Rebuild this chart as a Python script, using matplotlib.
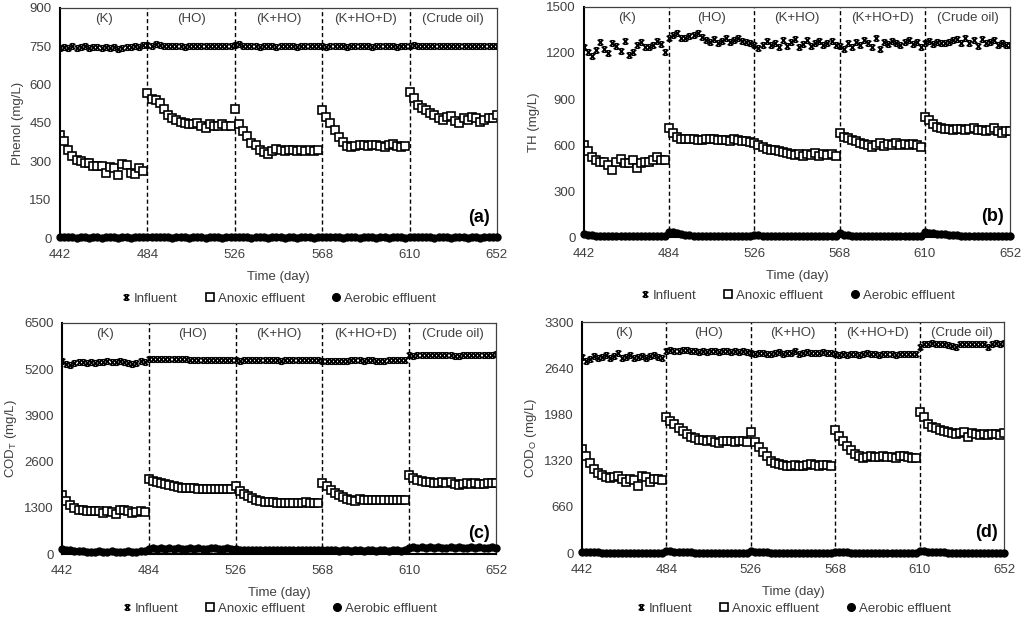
import numpy as np
import matplotlib
matplotlib.use('Agg')
import matplotlib.pyplot as plt
from matplotlib.path import Path
from matplotlib.lines import Line2D
import matplotlib.transforms as mtransforms

plt.rcParams['font.family'] = ['Liberation Sans', 'DejaVu Sans']
plt.rcParams['mathtext.fontset'] = 'custom'
plt.rcParams['mathtext.rm'] = 'Liberation Sans'
plt.rcParams['mathtext.it'] = 'Liberation Sans'

days = np.arange(442, 653, 2)  # sampling every 2 days
phase_bounds = [484, 526, 568, 610]
phase_names = ['(K)', '(HO)', '(K+HO)', '(K+HO+D)', '(Crude oil)']
phase_centers = [463, 505, 547, 589, 631]
xticks = [442, 484, 526, 568, 610, 652]

# ---- (a) Phenol ----
phenol_inf = [745, 748, 742, 750, 744, 747, 752, 745, 748, 746, 744, 747, 745, 748, 738, 742, 746, 749, 752, 748, 754,
              756, 752, 760, 755, 750, 752, 751, 750, 752, 749, 751, 753, 752, 750, 751, 752, 750, 752, 753, 751, 752,
              754, 758, 752, 751, 750, 752, 749, 751, 752, 750, 749, 751, 752, 750, 751, 749, 750, 752, 751, 750, 752,
              751, 749, 750, 752, 750, 751, 749, 752, 750, 751, 750, 752, 749, 751, 750, 752, 751, 750, 749, 751, 750,
              752, 754, 751, 752, 750, 753, 751, 752, 750, 751, 753, 752, 750, 751, 752, 750, 751, 752, 750, 751, 752, 751]
phenol_anox = [402, 378, 345, 320, 305, 300, 295, 295, 280, 282, 280, 255, 278, 272, 248, 290, 285, 255, 252, 272, 262,
               568, 545, 540, 530, 505, 480, 470, 460, 455, 450, 445, 445, 450, 440, 432, 448, 440, 440, 445, 440, 440,
               505, 445, 420, 400, 372, 362, 345, 335, 330, 340, 350, 345, 340, 345, 345, 340, 345, 342, 345, 340, 345,
               500, 475, 450, 423, 396, 377, 360, 355, 360, 365, 362, 360, 365, 362, 360, 358, 362, 368, 360, 358, 360,
               570, 548, 520, 510, 500, 490, 481, 468, 462, 473, 478, 458, 451, 468, 462, 475, 468, 455, 462, 470, 468, 480]
phenol_aer = [3, 2, 2, 2, 1, 2, 2, 1, 2, 2, 1, 2, 2, 2, 1, 2, 2, 1, 2, 2, 2,
              3, 3, 2, 2, 2, 2, 1, 2, 2, 2, 1, 2, 2, 2, 1, 2, 2, 2, 1, 2, 2,
              3, 2, 2, 2, 1, 2, 2, 2, 1, 2, 2, 2, 1, 2, 2, 1, 2, 2, 2, 1, 2,
              3, 2, 2, 2, 2, 1, 2, 2, 2, 1, 2, 2, 2, 1, 2, 2, 1, 2, 2, 2, 1,
              3, 3, 2, 2, 2, 2, 1, 2, 2, 2, 1, 2, 2, 2, 1, 2, 2, 1, 2, 2, 2, 2]

# ---- (b) TH ----
th_inf = [1237, 1209, 1180, 1220, 1274, 1224, 1202, 1267, 1246, 1215, 1280, 1187, 1209, 1252, 1274, 1241, 1241, 1252, 1280, 1261, 1209,
          1300, 1317, 1328, 1296, 1296, 1311, 1317, 1328, 1306, 1285, 1274, 1290, 1267, 1280, 1296, 1270, 1285, 1300, 1280, 1270, 1262,
          1255, 1230, 1250, 1280, 1255, 1262, 1240, 1283, 1245, 1272, 1290, 1238, 1258, 1282, 1244, 1262, 1276, 1255, 1268, 1280, 1250,
          1245, 1228, 1262, 1238, 1272, 1250, 1283, 1262, 1240, 1295, 1225, 1270, 1256, 1280, 1262, 1250, 1272, 1282, 1260, 1270, 1240,
          1262, 1275, 1258, 1270, 1262, 1265, 1272, 1282, 1290, 1262, 1300, 1268, 1282, 1248, 1292, 1262, 1272, 1282, 1250, 1265, 1255, 1250]
th_anox = [600, 560, 520, 500, 490, 490, 470, 440, 490, 510, 480, 480, 500, 450, 480, 490, 490, 500, 520, 505, 505,
           710, 680, 655, 640, 638, 640, 640, 635, 632, 640, 638, 640, 632, 630, 632, 626, 640, 635, 628, 625, 622,
           615, 600, 585, 575, 570, 565, 560, 555, 548, 540, 535, 540, 530, 542, 532, 545, 530, 540, 532, 540, 528,
           678, 654, 644, 630, 625, 611, 605, 600, 589, 600, 615, 595, 605, 600, 610, 600, 605, 600, 605, 598, 590,
           780, 760, 740, 720, 710, 705, 705, 700, 705, 705, 700, 705, 710, 700, 700, 690, 700, 710, 690, 680, 690, 690]
th_aer = [20, 15, 10, 8, 6, 5, 5, 4, 4, 4, 4, 4, 4, 4, 4, 4, 4, 4, 4, 4, 5,
          35, 30, 25, 20, 15, 10, 8, 6, 5, 5, 5, 5, 5, 4, 4, 4, 4, 4, 4, 4, 5,
          15, 10, 7, 5, 5, 4, 4, 4, 4, 4, 4, 4, 4, 4, 4, 4, 4, 4, 4, 4, 5,
          25, 15, 10, 7, 5, 5, 4, 4, 4, 4, 4, 4, 4, 4, 4, 4, 4, 4, 4, 4, 5,
          30, 28, 25, 22, 20, 18, 15, 12, 10, 8, 7, 6, 5, 5, 4, 4, 4, 4, 4, 4, 4, 4]

# ---- (c) COD_T ----
codt_inf = [5420, 5350, 5330, 5380, 5400, 5390, 5380, 5400, 5380, 5410, 5400, 5440, 5400, 5390, 5420, 5410, 5370, 5350, 5380, 5420, 5400,
            5480, 5475, 5485, 5480, 5478, 5482, 5490, 5495, 5485, 5480, 5460, 5455, 5460, 5465, 5458, 5462, 5470, 5460, 5465, 5470, 5460,
            5455, 5440, 5450, 5445, 5450, 5455, 5445, 5450, 5458, 5470, 5445, 5440, 5450, 5455, 5445, 5450, 5455, 5450, 5460, 5450, 5455,
            5440, 5430, 5435, 5440, 5438, 5442, 5440, 5445, 5450, 5462, 5440, 5445, 5450, 5440, 5435, 5440, 5445, 5450, 5455, 5460, 5450,
            5600, 5580, 5590, 5600, 5590, 5595, 5600, 5605, 5595, 5600, 5590, 5580, 5585, 5590, 5600, 5595, 5590, 5600, 5605, 5600, 5610, 5615]
codt_anox = [1650, 1500, 1380, 1300, 1250, 1230, 1220, 1210, 1220, 1200, 1150, 1200, 1180, 1130, 1230, 1240, 1200, 1150, 1180, 1200, 1180,
             2100, 2060, 2030, 2000, 1960, 1930, 1900, 1880, 1870, 1860, 1850, 1850, 1840, 1830, 1840, 1830, 1830, 1840, 1830, 1840, 1830,
             1910, 1780, 1700, 1620, 1570, 1530, 1500, 1470, 1460, 1450, 1440, 1430, 1440, 1430, 1440, 1430, 1440, 1450, 1430, 1440, 1430,
             1990, 1900, 1800, 1720, 1650, 1600, 1560, 1520, 1500, 1540, 1530, 1520, 1520, 1520, 1530, 1520, 1520, 1510, 1530, 1520, 1520,
             2220, 2130, 2080, 2050, 2030, 2020, 2010, 2000, 2020, 2000, 2030, 1980, 1950, 1970, 2000, 1980, 2000, 1980, 1980, 2000, 2010, 1990]
codt_aer = [150, 120, 100, 90, 80, 80, 70, 70, 60, 80, 70, 70, 80, 70, 60, 70, 80, 70, 70, 80, 80,
            150, 160, 150, 160, 150, 160, 150, 155, 150, 150, 160, 150, 155, 150, 150, 155, 160, 150, 150, 155, 150,
            130, 120, 110, 110, 100, 100, 100, 105, 100, 100, 110, 100, 100, 105, 100, 100, 100, 110, 100, 100, 100,
            120, 110, 100, 100, 95, 100, 100, 95, 100, 100, 95, 100, 100, 95, 100, 100, 95, 100, 100, 95, 100,
            180, 190, 180, 185, 180, 185, 180, 185, 180, 180, 185, 180, 185, 180, 180, 185, 180, 185, 180, 180, 185, 180]

# ---- (d) COD_O ----
codo_inf = [2800, 2740, 2770, 2820, 2780, 2800, 2830, 2790, 2810, 2860, 2780, 2800, 2830, 2790, 2800, 2810, 2790, 2820, 2830, 2800, 2780,
            2890, 2900, 2885, 2890, 2895, 2900, 2890, 2880, 2875, 2880, 2870, 2880, 2890, 2870, 2880, 2885, 2870, 2880, 2875, 2880, 2870,
            2860, 2850, 2855, 2860, 2850, 2845, 2855, 2870, 2850, 2860, 2855, 2880, 2850, 2860, 2870, 2855, 2860, 2855, 2865, 2860, 2855,
            2840, 2830, 2845, 2835, 2840, 2850, 2835, 2845, 2860, 2840, 2845, 2835, 2850, 2845, 2840, 2835, 2845, 2840, 2850, 2845, 2840,
            2950, 2990, 2980, 3000, 2985, 2980, 2990, 2975, 2960, 2940, 2980, 2990, 2985, 2980, 2990, 2985, 2980, 2940, 2990, 2995, 2990, 2995]
codo_anox = [1480, 1380, 1280, 1200, 1140, 1110, 1080, 1070, 1080, 1100, 1060, 1010, 1060, 1040, 960, 1100, 1090, 1010, 1060, 1060, 1040,
             1950, 1890, 1840, 1790, 1740, 1700, 1660, 1640, 1620, 1610, 1600, 1620, 1590, 1570, 1600, 1600, 1600, 1590, 1600, 1600, 1590,
             1730, 1590, 1520, 1450, 1380, 1320, 1290, 1270, 1260, 1250, 1250, 1260, 1240, 1250, 1260, 1270, 1260, 1250, 1260, 1260, 1250,
             1760, 1670, 1600, 1530, 1470, 1420, 1380, 1360, 1370, 1380, 1370, 1370, 1380, 1370, 1370, 1360, 1380, 1380, 1370, 1360, 1360,
             2020, 1940, 1850, 1800, 1780, 1760, 1740, 1730, 1720, 1700, 1710, 1730, 1660, 1710, 1700, 1690, 1700, 1690, 1700, 1700, 1690, 1720]
codo_aer = [15, 12, 10, 8, 8, 7, 7, 6, 6, 6, 6, 6, 6, 6, 6, 6, 6, 6, 6, 6, 6,
            30, 25, 20, 15, 12, 10, 8, 7, 6, 6, 6, 6, 6, 6, 6, 6, 6, 6, 6, 6, 6,
            25, 18, 12, 10, 8, 7, 6, 6, 6, 6, 6, 6, 6, 6, 6, 6, 6, 6, 6, 6, 6,
            20, 15, 10, 8, 7, 6, 6, 6, 6, 6, 6, 6, 6, 6, 6, 6, 6, 6, 6, 6, 6,
            30, 25, 20, 16, 12, 10, 8, 7, 6, 6, 6, 6, 6, 6, 6, 6, 6, 6, 6, 6, 6, 6]

panels = [
    # (influent, anoxic, aerobic, ylabel, ymax, ystep, tag, axes rect, legend offset)
    (phenol_inf, phenol_anox, phenol_aer, 'Phenol (mg/L)', 900, 150, '(a)', [0.0581, 0.6155, 0.4234, 0.3716], -0.265),
    (th_inf, th_anox, th_aer, 'TH (mg/L)', 1500, 300, '(b)', [0.5659, 0.6171, 0.4128, 0.3716], -0.255),
    (codt_inf, codt_anox, codt_aer, r'COD$_\mathregular{T}$ (mg/L)', 6500, 1300, '(c)', [0.0601, 0.1050, 0.4205, 0.3732], -0.237),
    (codo_inf, codo_anox, codo_aer, r'COD$_\mathregular{O}$ (mg/L)', 3300, 660, '(d)', [0.5640, 0.1066, 0.4089, 0.3732], -0.24),
]

# bow-tie "x" marker used for influent
inf_marker = Path([(-1, -1), (1, 1), (-1, 1), (1, -1), (-0.6, 1), (0.6, 1), (-0.6, -1), (0.6, -1)],
                  [Path.MOVETO, Path.LINETO] * 4)

txt = '#404040'
fs = 9.5
fig = plt.figure(figsize=(10.32, 6.19), dpi=100)

for inf, anox, aer, ylab, ymax, ystep, tag, rect, legy in panels:
    ax = fig.add_axes(rect)
    ax.plot(days, inf, linestyle='', marker=inf_marker, markersize=4, markeredgecolor='black',
            markeredgewidth=1.1, fillstyle='none')
    ax.plot(days, anox, linestyle='', marker='s', markersize=5.2, markerfacecolor='white',
            markeredgecolor='black', markeredgewidth=1.2)
    ax.plot(days, aer, linestyle='', marker='o', markersize=5, markerfacecolor='black',
            markeredgecolor='black', clip_on=False, zorder=5)
    for xb in phase_bounds:
        ax.axvline(xb, color='black', linestyle=(0, (3, 2)), linewidth=1.0, zorder=1)
    trans = mtransforms.blended_transform_factory(ax.transData, ax.transAxes)
    for xc, name in zip(phase_centers, phase_names):
        ax.text(xc, 0.952, name, transform=trans, ha='center', va='center', fontsize=fs, color=txt)
    ax.text(0.985, 0.09, tag, transform=ax.transAxes, ha='right', va='center', fontsize=13,
            fontweight='bold', color='black')
    ax.set_xlim(442, 652)
    ax.set_ylim(0, ymax)
    ax.set_xticks(xticks)
    ax.set_yticks(np.arange(0, ymax + 1, ystep))
    ax.tick_params(axis='x', length=0, labelsize=fs, labelcolor=txt, pad=8)
    ax.tick_params(axis='y', length=0, labelsize=fs, labelcolor=txt, pad=6)
    ax.set_xlabel('Time (day)', fontsize=fs, color=txt, labelpad=7)
    ax.set_ylabel(ylab, fontsize=fs, color=txt, labelpad=4)
    for s in ['top', 'right']:
        ax.spines[s].set_linewidth(0.9)
        ax.spines[s].set_color('#404040')
    ax.spines['left'].set_linewidth(1.5)
    ax.spines['bottom'].set_linewidth(1.5)

    handles = [
        Line2D([], [], linestyle='', marker=inf_marker, markersize=4, markeredgecolor='black',
               markeredgewidth=1.1, fillstyle='none'),
        Line2D([], [], linestyle='', marker='s', markersize=5.5, markerfacecolor='white',
               markeredgecolor='black', markeredgewidth=1.2),
        Line2D([], [], linestyle='', marker='o', markersize=5.5, color='black'),
    ]
    leg = ax.legend(handles, ['Influent', 'Anoxic effluent', 'Aerobic effluent'], loc='center',
                    bbox_to_anchor=(0.5, legy), ncol=3, frameon=False, fontsize=fs,
                    handlelength=0.8, handletextpad=0.2, columnspacing=2.0)
    for t in leg.get_texts():
        t.set_color(txt)

fig.savefig('out.png', dpi=100)
